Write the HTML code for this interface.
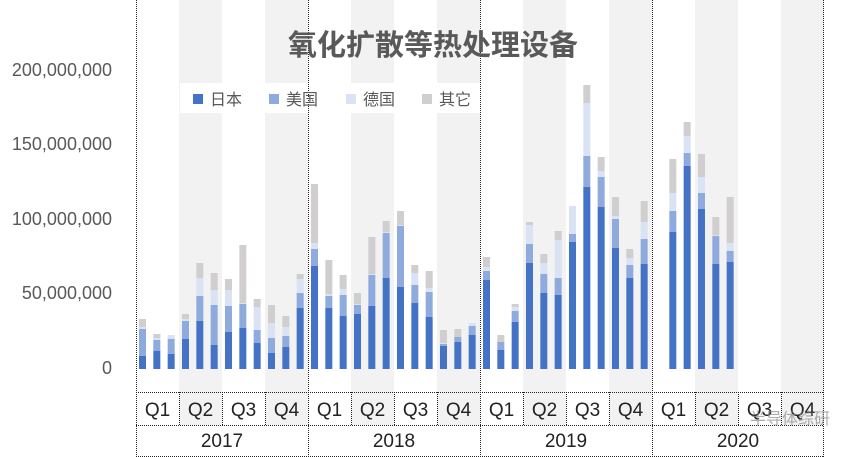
<!DOCTYPE html>
<html><head><meta charset="utf-8"><style>
html,body{margin:0;padding:0;background:#fff;}
svg{display:block;font-family:"Liberation Sans","Noto Sans CJK SC",sans-serif;}
</style></head><body>
<svg id="c" width="868" height="457" xmlns="http://www.w3.org/2000/svg">
<g id="bands"></g>
<rect x="180" y="83" width="300" height="30" fill="#fff"/>
<g id="bars"></g>
<g id="lines" stroke="#222" stroke-width="1" stroke-dasharray="1,1" fill="none"></g>
<g fill="#595959" font-size="18" text-anchor="end">
<text x="112" y="76">200,000,000</text>
<text x="112" y="150">150,000,000</text>
<text x="112" y="225">100,000,000</text>
<text x="112" y="299">50,000,000</text>
<text x="112" y="374">0</text>
</g>
<text x="433" y="55" text-anchor="middle" font-size="29" font-weight="bold" fill="#595959" font-family="'Noto Sans CJK SC',sans-serif">氧化扩散等热处理设备</text>
<g font-size="16" fill="#595959" font-family="'Noto Sans CJK SC',sans-serif">
<rect x="193" y="94" width="10" height="10" fill="#4472c4"/><text x="210" y="105">日本</text>
<rect x="269" y="94" width="10" height="10" fill="#8faadc"/><text x="286" y="105">美国</text>
<rect x="346" y="94" width="10" height="10" fill="#dae3f3"/><text x="363" y="105">德国</text>
<rect x="422" y="94" width="10" height="10" fill="#d0cece"/><text x="439" y="105">其它</text>
</g>
<g id="labels" font-size="19" fill="#222" text-anchor="middle"></g>
<text x="790" y="424" text-anchor="middle" font-size="16" fill="#888" opacity="0.7" font-family="'Noto Sans CJK SC',sans-serif">半导体综研</text>
</svg>
<script>
var ns="http://www.w3.org/2000/svg";
function el(p,t,a,txt){var e=document.createElementNS(ns,t);for(var k in a)e.setAttribute(k,a[k]);if(txt)e.textContent=txt;document.getElementById(p).appendChild(e);}
var X0=136,Q=43;
for(var y=0;y<4;y++){for(var q of [1,3]){var x=X0+y*172+q*Q;el("bands","rect",{x:x,y:0,width:Q,height:425,fill:"#f2f2f2"});}}
var d=[[356,329,327,319],[351,340,338,334],[354,339,335,335],[339,321,319,314],[321,296,278,263],[345,305,290,273],[332,306,290,279],[328,304,303,245],[343,330,307,299],[353,338,323,305],[347,336,327,316],[308,293,279,274],
[266,249,243,184],[308,296,294,260],[316,295,289,275],[314,305,304,293],[306,275,274,237],[278,233,232,221],[287,226,225,211],[303,285,273,265],[317,292,288,271],[346,344,343,330],[342,337,337,329],[335,326,323,323],
[280,271,267,257],[350,342,342,335],[322,311,307,304],[263,244,225,222],[293,274,263,254],[295,278,240,231],[242,234,206,206],[187,156,103,85],[207,177,171,157],[248,219,216,197],[278,265,258,249],[264,239,222,201],
null,[232,211,193,159],[166,153,136,122],[209,193,177,154],[264,236,235,217],[262,251,243,197]];
var col=["#4472c4","#8faadc","#dae3f3","#d0cece"],B=369;
d.forEach(function(v,k){if(!v)return;var cx=X0+6.5+k*14.333;var prev=B;for(var i=0;i<4;i++){var t=v[i];if(prev-t>0)el("bars","rect",{x:cx-3.5,y:t,width:7,height:prev-t,fill:col[i]});prev=t;}});
for(var i=0;i<=4;i++){var x=X0+i*172-(i==4?1:0);el("lines","line",{x1:x+.5,y1:0,x2:x+.5,y2:457});}
for(var i=0;i<16;i++){if(i%4==0)continue;var x=X0+i*43;el("lines","line",{x1:x+.5,y1:392,x2:x+.5,y2:425});}
el("lines","line",{x1:136,y1:392.5,x2:823,y2:392.5});
el("lines","line",{x1:136,y1:425.5,x2:823,y2:425.5});
el("lines","line",{x1:136,y1:456.5,x2:823,y2:456.5});
for(var i=0;i<16;i++){el("labels","text",{x:X0+i*43+21.5,y:416},"Q"+(i%4+1));}
for(var y=0;y<4;y++){el("labels","text",{x:X0+y*172+86,y:447},""+(2017+y));}
</script>
</body></html>
